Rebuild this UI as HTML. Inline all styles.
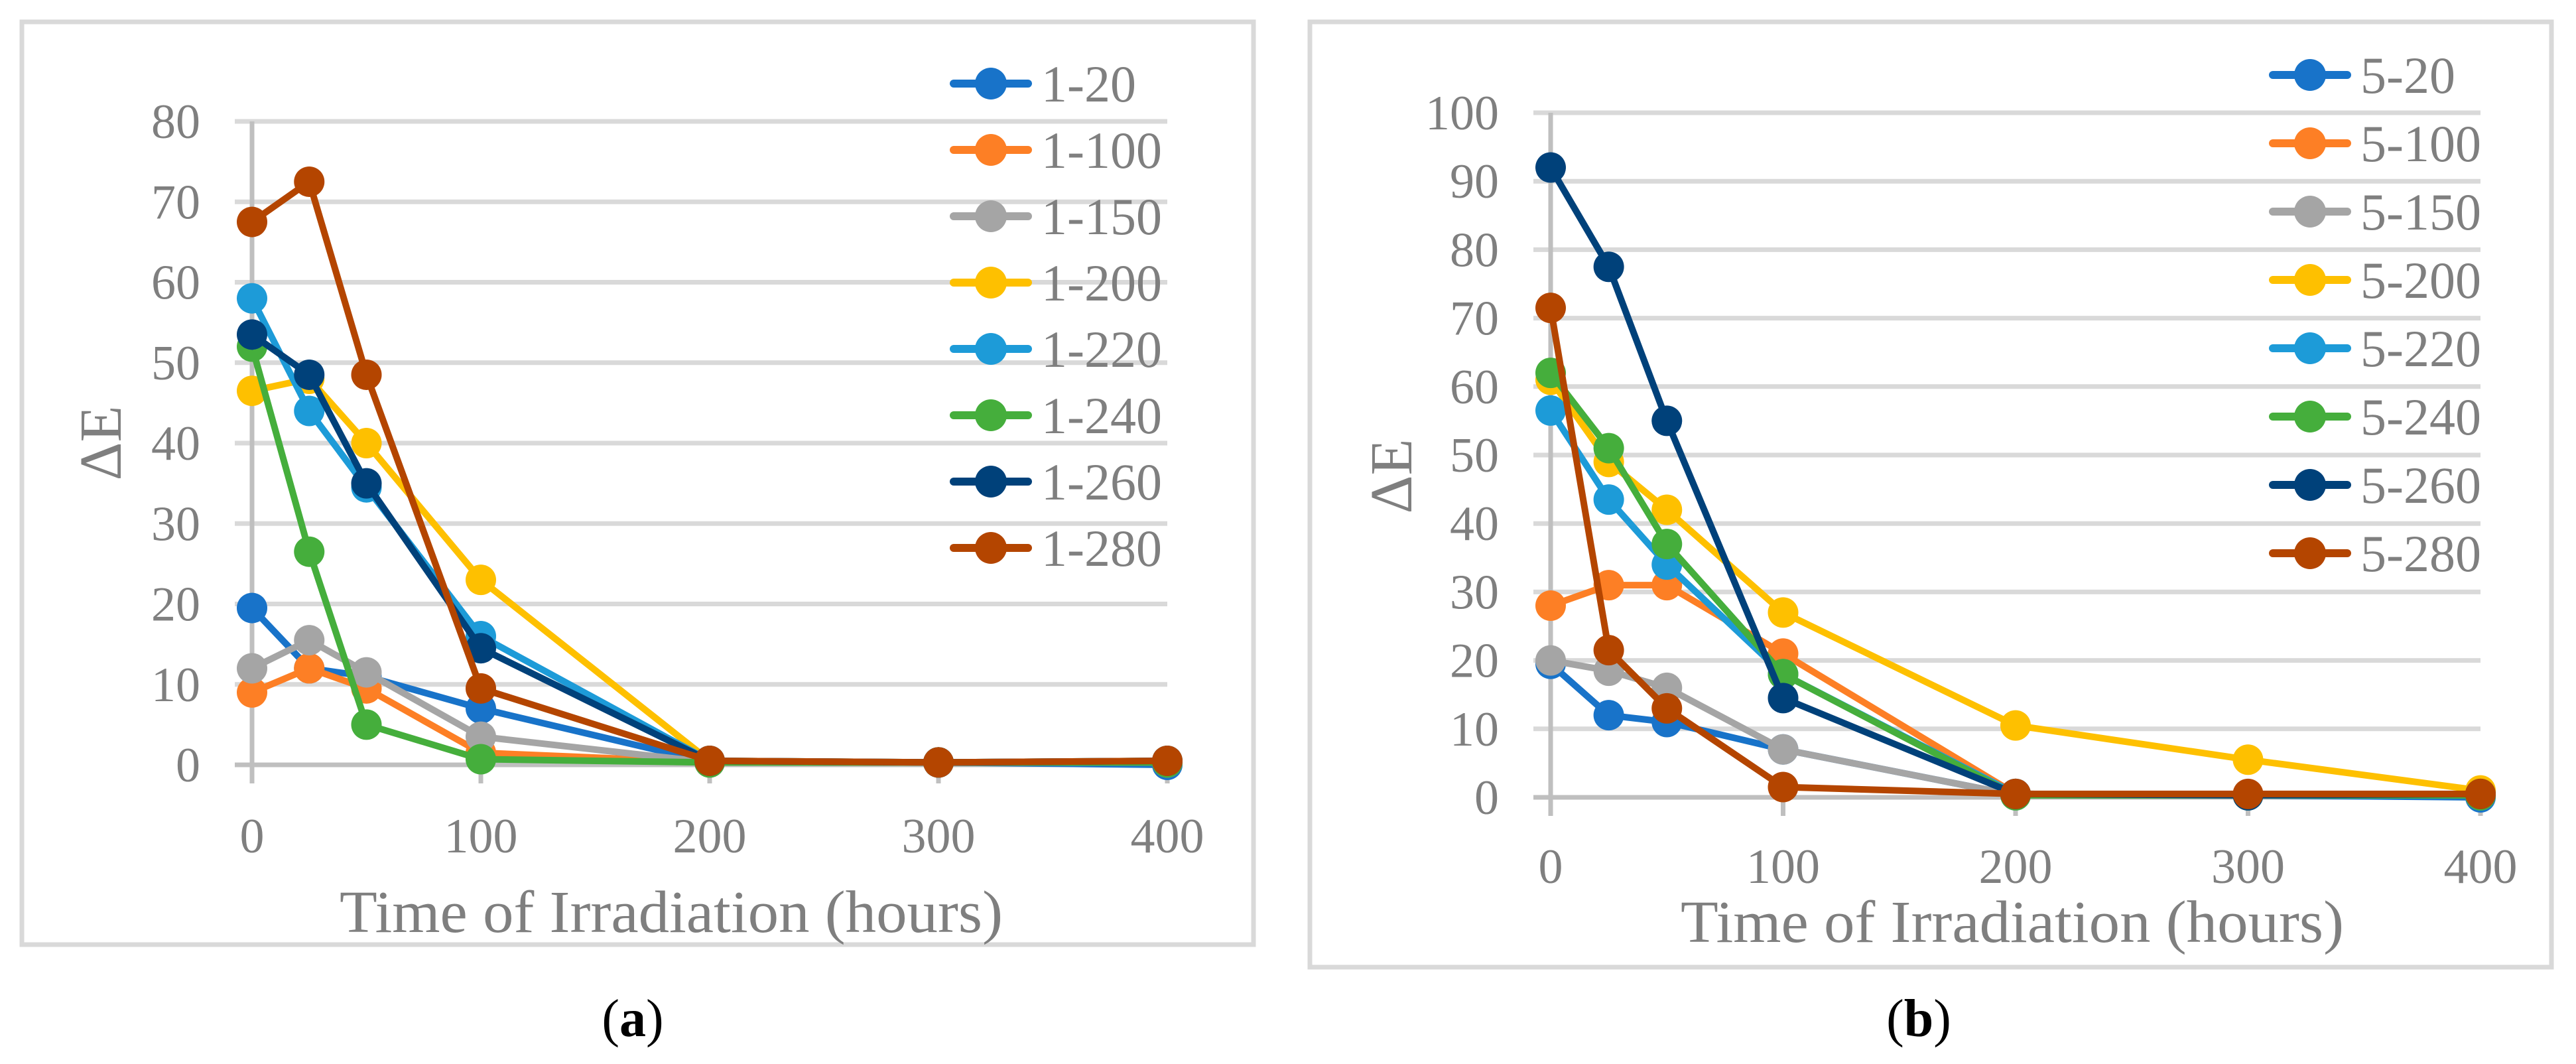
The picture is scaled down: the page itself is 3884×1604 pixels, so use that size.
<!DOCTYPE html>
<html><head><meta charset="utf-8"><style>
html,body{margin:0;padding:0;background:#fff}
svg{display:block}
text{font-family:"Liberation Serif",serif}
</style></head><body>
<svg id="fig" width="3884" height="1604" viewBox="0 0 3884 1604" xmlns="http://www.w3.org/2000/svg">
<rect x="33" y="33" width="1857" height="1391" fill="#fff" stroke="#d9d9d9" stroke-width="7"/>
<rect x="1975" y="33" width="1872" height="1425" fill="#fff" stroke="#d9d9d9" stroke-width="7"/>
<text x="954" y="1562" font-size="80" text-anchor="middle" fill="#000">(<tspan font-weight="bold">a</tspan>)</text>
<text x="2893" y="1562" font-size="80" text-anchor="middle" fill="#000">(<tspan font-weight="bold">b</tspan>)</text>
</svg>
<script>
const xVals = [0, 25, 50, 100, 200, 300, 400];
const xTicks = [0, 100, 200, 300, 400];
const yTicksA = [0, 10, 20, 30, 40, 50, 60, 70, 80];
const yTicksB = [0, 10, 20, 30, 40, 50, 60, 70, 80, 90, 100];
const namesA = ["1-20","1-100","1-150","1-200","1-220","1-240","1-260","1-280"];
const namesB = ["5-20","5-100","5-150","5-200","5-220","5-240","5-260","5-280"];
const colors = ["#1873c9","#fd7f25","#a5a5a5","#fec000","#1d9bd8","#45ae3c","#00417a","#b44500"];
const a20 = [19.5, 12, 11, 7, 0.3, 0.3, 0];
const a100 = [9, 12, 9.5, 1.5, 0.3, 0.3, 0.3];
const a150 = [12, 15.5, 11.5, 3.5, 0.3, 0.3, 0.3];
const a200 = [46.5, 48, 40, 23, 0.5, 0.3, 0.5];
const a220 = [58, 44, 34.5, 16, 0.5, 0.3, 0.5];
const a240 = [52, 26.5, 5, 0.7, 0.3, 0.3, 0.3];
const a260 = [53.5, 48.5, 35, 14.5, 0.5, 0.3, 0.5];
const a280 = [67.5, 72.5, 48.5, 9.5, 0.5, 0.3, 0.5];
const b20 = [19.5, 12, 11, 7, 0.3, 0.3, 0];
const b100 = [28, 31, 31, 21, 0.5, 0.3, 0.3];
const b150 = [20, 18.5, 16, 7, 0.3, 0.3, 0.3];
const b200 = [61, 49, 42, 27, 10.5, 5.5, 1];
const b220 = [56.5, 43.5, 34, 18, 0.5, 0.3, 0.3];
const b240 = [62, 51, 37, 18, 0.3, 0.3, 0.3];
const b260 = [92, 77.5, 55, 14.5, 0.5, 0.3, 0.5];
const b280 = [71.5, 21.5, 13, 1.5, 0.5, 0.5, 0.5];

const NS = "http://www.w3.org/2000/svg";
const svg = document.getElementById('fig');
function mk(tag, attrs, parent) {
  const e = document.createElementNS(NS, tag);
  for (const k in attrs) e.setAttribute(k, attrs[k]);
  (parent || svg).appendChild(e);
  return e;
}

function chart(cfg) {
  const g = mk('g', {});
  
  
  const xs = v => cfg.x0 + (v - 0) / 400 * (cfg.x1 - cfg.x0);
  const ys = v => cfg.y0 - v / cfg.ymax * (cfg.y0 - cfg.y1);
  cfg.yTicks.forEach(t => {
    const ln = mk('line', {x1: cfg.x0 - 26, x2: cfg.x1, y1: ys(t), y2: ys(t), stroke: t === 0 ? '#bfbfbf' : '#d9d9d9', 'stroke-width': 7}, g);
    
    
    const tx = mk('text', {x: cfg.ylabX, y: ys(t) + 25, 'font-size': 74, fill: '#7f7f7f', 'text-anchor': 'end'}, g);
    
    
    tx.textContent = t;
  });
  const ax = mk('line', {x1: cfg.x0, x2: cfg.x0, y1: ys(cfg.ymax), y2: cfg.y0 + 28, stroke: '#bfbfbf', 'stroke-width': 7}, g);
  
  
  xTicks.forEach(t => {
    const tk = mk('line', {x1: xs(t), x2: xs(t), y1: cfg.y0, y2: cfg.y0 + 28, stroke: '#bfbfbf', 'stroke-width': 7}, g);
    
    
    const tx = mk('text', {x: xs(t), y: cfg.xlabY, 'font-size': 74, fill: '#7f7f7f', 'text-anchor': 'middle'}, g);
    
    
    tx.textContent = t;
  });
  cfg.series.forEach((s, i) => {
    const pts = s.map((v, j) => xs(xVals[j]) + ',' + ys(v)).join(' ');
    const pl = mk('polyline', {points: pts, fill: 'none', stroke: colors[i], 'stroke-width': 10, 'stroke-linejoin': 'round'}, g);
    
    
    s.forEach((v, j) => {
      const c = mk('circle', {cx: xs(xVals[j]), cy: ys(v), r: 23, fill: colors[i]}, g);
      
      
    });
  });
  cfg.names.forEach((n, i) => {
    const y = cfg.legY + i * cfg.legDy;
    const lg = mk('g', {}, g);
    
    
    mk('line', {x1: cfg.legX - 56, x2: cfg.legX + 56, y1: y, y2: y, stroke: colors[i], 'stroke-width': 12, 'stroke-linecap': 'round'}, lg);
    mk('circle', {cx: cfg.legX, cy: y, r: 24, fill: colors[i]}, lg);
    const t = mk('text', {x: cfg.legX + 76, y: y + 27, 'font-size': 78, fill: '#7f7f7f'}, lg);
    t.textContent = n;
  });
  const xt = mk('text', {x: cfg.xtX, y: cfg.xtY, 'font-size': 90, fill: '#7f7f7f', 'text-anchor': 'middle', textLength: 1000, lengthAdjust: 'spacingAndGlyphs'}, g);
  
  
  xt.textContent = 'Time of Irradiation (hours)';
  const yt = mk('text', {x: 0, y: 0, 'font-size': 90, fill: '#7f7f7f', 'text-anchor': 'middle', transform: 'translate(' + cfg.ytX + ',' + cfg.ytY + ') rotate(-90)'}, g);
  
  
  yt.textContent = 'ΔE';
}

chart({id: 'a', x0: 380, x1: 1760, y0: 1153, y1: 183, ymax: 80, yTicks: yTicksA, ylabX: 302, xlabY: 1285,
  series: [a20, a100, a150, a200, a220, a240, a260, a280], names: namesA,
  legX: 1494, legY: 126, legDy: 100, xtX: 1012, xtY: 1405, ytX: 182, ytY: 668});
chart({id: 'b', x0: 2338, x1: 3740, y0: 1202, y1: 170, ymax: 100, yTicks: yTicksB, ylabX: 2260, xlabY: 1331,
  series: [b20, b100, b150, b200, b220, b240, b260, b280], names: namesB,
  legX: 3483, legY: 113, legDy: 103, xtX: 3034, xtY: 1420, ytX: 2128, ytY: 718});
</script>
</body></html>
